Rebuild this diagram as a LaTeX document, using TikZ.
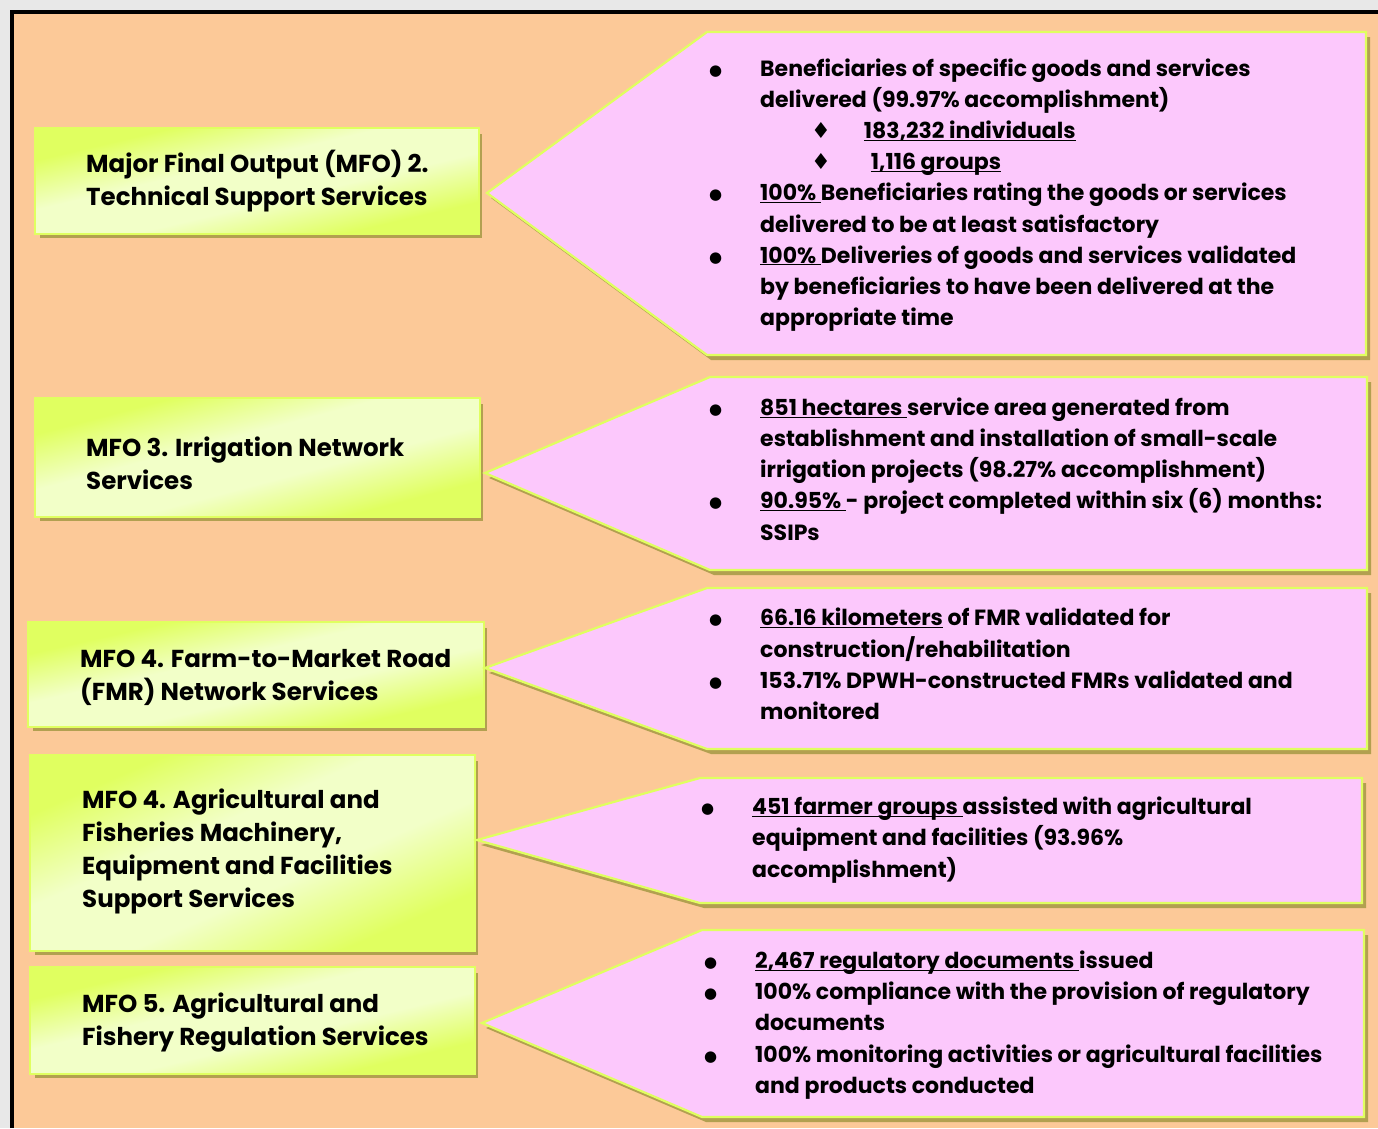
\documentclass[tikz,border=0pt]{standalone}
\usepackage{fontspec}
\setmainfont{Poppins}
\newfontfamily\symfont{DejaVu Sans}
\usetikzlibrary{shadows,positioning}

\definecolor{pagegrey}{RGB}{232,232,232}
\definecolor{peach}{RGB}{252,201,152}
\definecolor{lime}{RGB}{224,255,96}
\definecolor{limepale}{RGB}{242,255,200}
\definecolor{pinkfill}{RGB}{252,200,252}
\definecolor{shadowolive}{RGB}{178,160,80}
\pgfdeclareverticalshading{mfofill}{100bp}{color(0bp)=(lime); color(25bp)=(lime);
  color(42bp)=(limepale); color(58bp)=(limepale); color(75bp)=(lime); color(100bp)=(lime)}

\newcommand{\bul}{\llap{\raisebox{1pt}{\fontsize{15}{15}\symfont ●}\hspace{38pt}}}
\newcommand{\dia}{{\symfont ♦}}
\newcommand{\uln}[1]{\underline{\smash{#1}}}

\begin{document}
\begin{tikzpicture}[x=1pt,y=-1pt,
  mfo/.style={draw=lime, line width=2pt, fill=lime, anchor=north west, inner sep=0pt,
    drop shadow={shadow xshift=4pt, shadow yshift=-5pt, fill=shadowolive, opacity=1}},
  mfoshade/.style={shading=mfofill, shading angle=45},
  mfoline/.style={draw=lime, line width=2pt},
  mfotext/.style={anchor=west, align=left, inner sep=0pt,
    font=\fontsize{24.5}{33}\selectfont\bfseries},
  pent/.style={draw=lime, line width=2.2pt, fill=pinkfill, line join=miter,
    drop shadow={shadow xshift=4pt, shadow yshift=-5pt, fill=shadowolive, opacity=1}},
  outtext/.style={anchor=west, align=left, inner sep=0pt,
    font=\fontsize{22}{31.2}\selectfont\bfseries}]
\useasboundingbox (0,0) rectangle (1378,1128);
\fill[pagegrey] (0,0) rectangle (1378,1128);
\fill[peach] (12,12) rectangle (1378,1128);
\draw[line width=4pt] (12,1128) -- (12,12) -- (1378,12);

% left boxes
\node[mfo, minimum width=442, minimum height=104] (mfo2) at (35,128) {};
\node[mfo, minimum width=443, minimum height=117] (mfo3) at (35,398) {};
\node[mfo, minimum width=454, minimum height=103] (mfo4) at (28,622) {};
\node[mfo, minimum width=443, minimum height=194] (mfo4b) at (30,755) {};
\node[mfo, minimum width=443, minimum height=105] (mfo5) at (30,967) {};
\foreach \b/\w/\h in {mfo2/442/104, mfo3/443/117, mfo4/454/103, mfo4b/443/194, mfo5/443/105}{
  \shade[mfoshade, transform canvas={shift={(\b.center)}, xscale=\w/100, yscale=\h/100}]
    (-50,-50) rectangle (50,50);
  \draw[mfoline] (\b.north west) rectangle (\b.south east);
}

\node[mfotext] (mfo2txt) at ([xshift=51]mfo2.west) {Major Final Output (MFO) 2.\\Technical Support Services};
\node[mfotext] (mfo3txt) at ([xshift=51,yshift=-6]mfo3.west) {MFO 3. Irrigation Network\\Services};
\node[mfotext] (mfo4txt) at ([xshift=52,yshift=-3]mfo4.west) {MFO 4. Farm-to-Market Road\\(FMR) Network Services};
\node[mfotext] (mfo4btxt) at ([xshift=52,yshift=2]mfo4b.west) {MFO 4. Agricultural and\\Fisheries Machinery,\\Equipment and Facilities\\Support Services};
\node[mfotext] (mfo5txt) at ([xshift=52,yshift=-2]mfo5.west) {MFO 5. Agricultural and\\Fishery Regulation Services};

% output arrows
\draw[pent] (487,193) -- (707,32) -- (1366,32) -- (1366,355) -- (707,355) -- cycle;
\draw[pent] (485,473) -- (710,377) -- (1367,377) -- (1367,570) -- (710,570) -- cycle;
\draw[pent] (485,668) -- (707,588) -- (1367,588) -- (1367,749) -- (707,749) -- cycle;
\draw[pent] (477,840) -- (700,778) -- (1362,778) -- (1362,903) -- (700,903) -- cycle;
\draw[pent] (482,1023) -- (702,930) -- (1364,930) -- (1364,1117) -- (702,1117) -- cycle;

\node[outtext] (out2) at (760,195) {\bul Beneficiaries of specific goods and services\\
delivered (99.97\% accomplishment)\\
\hspace*{51pt}\dia\hspace{33pt}\uln{183,232 individuals}\\
\hspace*{51pt}\dia\hspace{40pt}\uln{1,116 groups}\\
\bul\uln{100\%\ }Beneficiaries rating the goods or services\\
delivered to be at least satisfactory\\
\bul\uln{100\%\ }Deliveries of goods and services validated\\
by beneficiaries to have been delivered at the\\
appropriate time};
\node[outtext] (out3) at (760,469) {\bul\uln{851 hectares\ }service area generated from\\
establishment and installation of small-scale\\
irrigation projects (98.27\% accomplishment)\\
\bul\uln{90.95\%\ }- project completed within six (6) months:\\
SSIPs};
\node[outtext] (out4) at (760,664) {\bul\uln{66.16 kilometers} of FMR validated for\\
construction/rehabilitation\\
\bul 153.71\% DPWH-constructed FMRs validated and\\
monitored};
\node[outtext] (out4b) at (752,840) {\bul\uln{451 farmer groups\ }assisted with agricultural\\
equipment and facilities (93.96\%\\
accomplishment)};
\node[outtext] (out5) at (755,1025) {\bul\uln{2,467 regulatory documents\ }issued\\
\bul 100\% compliance with the provision of regulatory\\
documents\\
\bul 100\% monitoring activities or agricultural facilities\\
and products conducted};
\end{tikzpicture}
\end{document}
